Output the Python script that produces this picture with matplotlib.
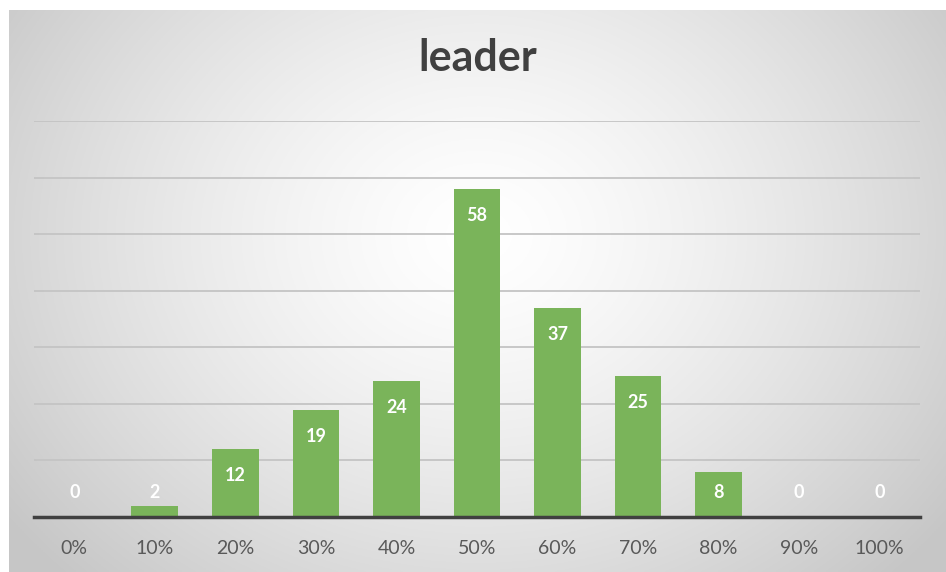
import numpy as np
import matplotlib
matplotlib.use("Agg")
import matplotlib.pyplot as plt

categories = ["0%", "10%", "20%", "30%", "40%", "50%", "60%", "70%", "80%", "90%", "100%"]
values = [0, 2, 12, 19, 24, 58, 37, 25, 8, 0, 0]
title = "leader"

W, H = 946, 572
fig = plt.figure(figsize=(W / 100, H / 100), dpi=100)
fig.patch.set_facecolor("white")

# background radial gradient (chart area)
bg = fig.add_axes([9 / W, 0, (W - 9) / W, (H - 10) / H])
bg.set_axis_off()
ny, nx = 300, 500
yy, xx = np.mgrid[0:ny, 0:nx]
cx, cy = nx * 0.50, ny * 0.40
r = np.sqrt(((xx - cx) / (nx * 0.62)) ** 2 + ((yy - cy) / (ny * 0.85)) ** 2)
r = np.clip(r, 0, 1)
val = 1.0 - 0.22 * r ** 1.4
img = np.dstack([val, val, val])
bg.imshow(img, aspect="auto", extent=[0, 1, 0, 1], origin="upper")
bg.set_xlim(0, 1)
bg.set_ylim(0, 1)

ax = fig.add_axes([34 / W, 55 / H, (920 - 34) / W, 396 / H])
ax.patch.set_alpha(0)
x = np.arange(len(categories))
ax.bar(x, values, width=0.58, color="#7ab45a", zorder=3)
ax.set_xlim(-0.5, len(categories) - 0.5)
ax.set_ylim(0, 70)
ax.set_yticks(np.arange(0, 71, 10))
ax.yaxis.grid(True, color="#c4c4c4", lw=1.3, zorder=0)
ax.tick_params(axis="y", left=False, labelleft=False)
ax.tick_params(axis="x", bottom=False, pad=13)
ax.set_xticks(x)
ax.set_xticklabels(categories, fontsize=14, color="#595959", family="Lato")
for s in ["left", "right", "top"]:
    ax.spines[s].set_visible(False)
ax.spines["bottom"].set_color("#404040")
ax.spines["bottom"].set_linewidth(2.5)
ax.spines["bottom"].set_zorder(4)

for xi, v in zip(x, values):
    ly = max(v - 4.7, 4.3)
    ax.text(xi, ly, str(v), ha="center", va="center", color="white",
            fontsize=13, fontweight="bold", family="Lato", zorder=5)

fig.text(478 / W, 1 - 58 / H, title, ha="center", va="center", fontsize=31,
         fontweight="bold", color="#404040", family="Lato")

fig.savefig("out.png", dpi=100)
